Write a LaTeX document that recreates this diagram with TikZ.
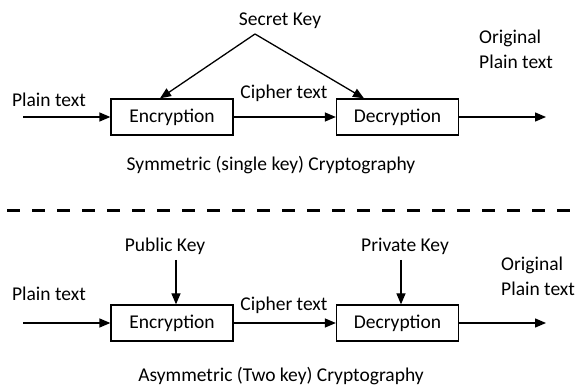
\documentclass[tikz,border=0pt]{standalone}
\usepackage{fontspec}
\setmainfont{Carlito}
\usetikzlibrary{arrows.meta}
\begin{document}
\begin{tikzpicture}[x=1pt,y=-1pt,
  every node/.style={font=\fontsize{19.5}{25}\selectfont, inner sep=0pt},
  box/.style={draw, line width=1.3pt, minimum width=122pt, minimum height=36pt},
  conn/.style={line width=1.3pt, -{Triangle[length=11pt,width=9pt]}},
  plainline/.style={line width=1.3pt},
  sep/.style={line width=3pt, dash pattern=on 13pt off 12pt}]
\useasboundingbox (0,0) rectangle (576,387);

% ---------- symmetric ----------
\node[box] (enc1) at (172,117) {Encryption};
\node[box] (dec1) at (397.5,117) {Decryption};
\node (sk) at (280,21) {Secret Key};
\coordinate (apex) at (255,34);
\node (pt1) at (49,100) {Plain text};
\node (ct1) at (284,93) {Cipher text};
\node[anchor=west, align=left] (op1) at (479,49.5) {Original\\Plain text};
\node (sym) at (271,165) {Symmetric (single key) Cryptography};
\coordinate (in1) at (23,117);
\coordinate (out1) at (546,117);

\draw[conn] (in1) -- (enc1.west);
\draw[conn] (enc1.east) -- (dec1.west);
\draw[conn] (dec1.east) -- (out1);
\draw[conn] (apex) -- ([xshift=-12pt]enc1.north);
\draw[conn] (apex) -- ([xshift=-33.5pt]dec1.north);

% ---------- separator ----------
\coordinate (sepL) at (7,211);
\coordinate (sepR) at (576,211);
\draw[sep] (sepL) -- (sepR);

% ---------- asymmetric ----------
\node[box] (enc2) at (172,323) {Encryption};
\node[box] (dec2) at (397.5,323) {Decryption};
\node (pk) at (165,246) {Public Key};
\node (prk) at (405,246) {Private Key};
\coordinate (pkend) at (176,260);
\coordinate (prkend) at (401,260);
\node (pt2) at (49,294) {Plain text};
\node (ct2) at (284,305) {Cipher text};
\node[anchor=west, align=left] (op2) at (501,276) {Original\\Plain text};
\node (asym) at (281,376) {Asymmetric (Two key) Cryptography};
\coordinate (in2) at (23,323);
\coordinate (out2) at (546,323);

\draw[conn] (in2) -- (enc2.west);
\draw[conn] (enc2.east) -- (dec2.west);
\draw[conn] (dec2.east) -- (out2);
\draw[conn] (pkend) -- (pkend |- enc2.north);
\draw[conn] (prkend) -- (prkend |- dec2.north);
\end{tikzpicture}
\end{document}
